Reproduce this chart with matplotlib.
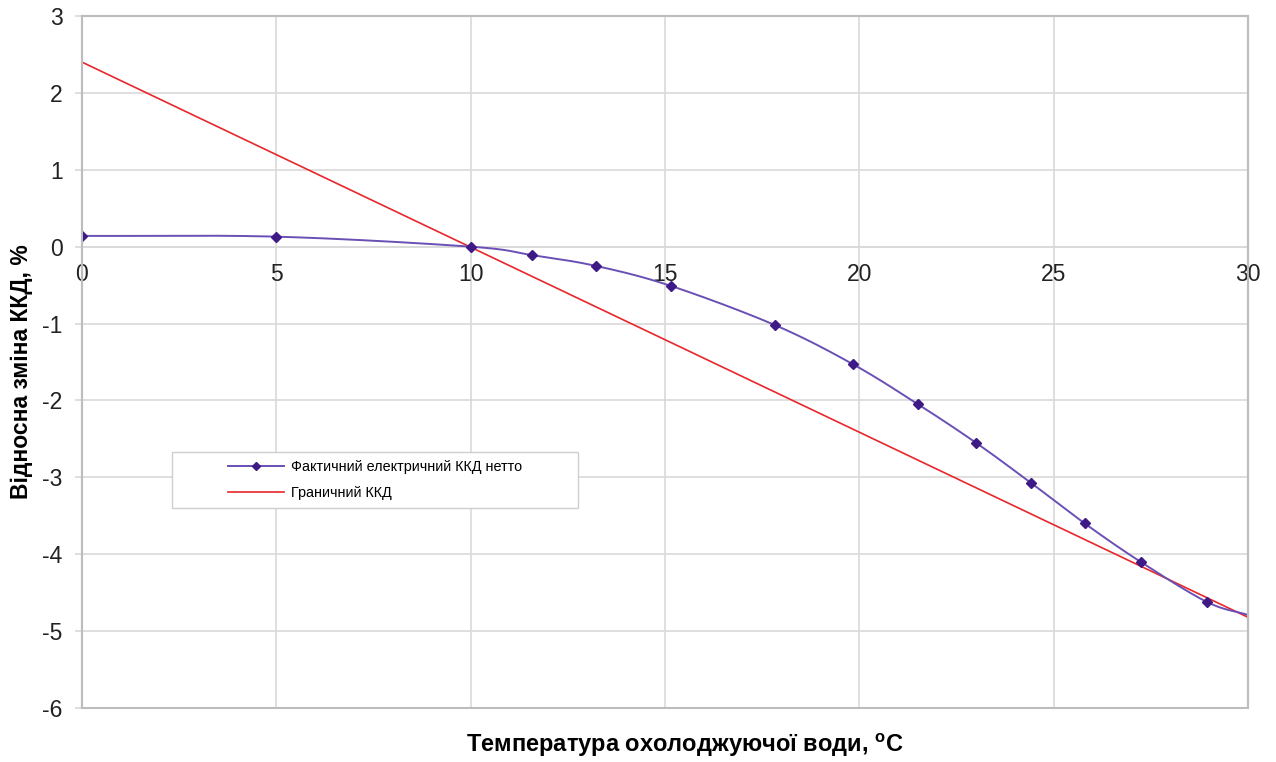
import numpy as np
import matplotlib
matplotlib.use("Agg")
import matplotlib.pyplot as plt
from matplotlib.patches import Rectangle

plt.rcParams['font.family'] = ['Liberation Sans', 'DejaVu Sans']
plt.rcParams['mathtext.default'] = 'regular'

# data
actual_x = [0, 5, 10, 11.58, 13.22, 15.15, 17.83, 19.84, 21.51, 23.0, 24.41, 25.8, 27.24, 28.94, 30]
actual_y = [0.14, 0.13, 0.0, -0.11, -0.25, -0.51, -1.02, -1.53, -2.05, -2.55, -3.07, -3.6, -4.10, -4.62, -4.79]
limit_x = [0, 30]
limit_y = [2.4, -4.82]
label_actual = "Фактичний електричний ККД нетто"
label_limit = "Граничний ККД"
x_ticks = [0, 5, 10, 15, 20, 25, 30]
y_ticks = [-6, -5, -4, -3, -2, -1, 0, 1, 2, 3]


def catmull_rom(xs, ys, n=30):
    xs = np.asarray(xs, float); ys = np.asarray(ys, float)
    px = np.concatenate([[2 * xs[0] - xs[1]], xs, [2 * xs[-1] - xs[-2]]])
    py = np.concatenate([[2 * ys[0] - ys[1]], ys, [2 * ys[-1] - ys[-2]]])
    ox, oy = [], []
    for i in range(1, len(px) - 2):
        t = np.linspace(0, 1, n, endpoint=False)
        for P, out in ((px, ox), (py, oy)):
            p0, p1, p2, p3 = P[i - 1], P[i], P[i + 1], P[i + 2]
            out.extend(0.5 * ((2 * p1) + (-p0 + p2) * t + (2 * p0 - 5 * p1 + 4 * p2 - p3) * t ** 2
                              + (-p0 + 3 * p1 - 3 * p2 + p3) * t ** 3))
    ox.append(xs[-1]); oy.append(ys[-1])
    return np.array(ox), np.array(oy)


W, H = 1276, 762
fig = plt.figure(figsize=(W / 100, H / 100), dpi=100)
L, R, T, B = 82, 1248, 16, 708
ax = fig.add_axes([L / W, 1 - B / H, (R - L) / W, (B - T) / H])

grid_c = '#d9d9d9'
frame_c = '#bdbdbd'
purple = '#6a4fb5'
mark_c = '#3d1a85'
red = '#e8262b'

sx, sy = catmull_rom(actual_x, actual_y)
ax.plot(limit_x, limit_y, color=red, lw=1.2, zorder=3)
ax.plot(sx, sy, color=purple, lw=1.4, zorder=4)
ax.plot(actual_x[:-1], actual_y[:-1], ls='none', marker='D', ms=5.5, color=mark_c, zorder=5)

ax.set_xlim(0, 30)
ax.set_ylim(-6, 3)
ax.set_xticks(x_ticks)
ax.set_yticks(y_ticks)
ax.set_xticklabels([str(v) for v in x_ticks])
ax.set_yticklabels([str(v) for v in y_ticks])

ax.grid(True, color=grid_c, lw=1.2, zorder=0)
for s in ['top', 'right', 'left']:
    ax.spines[s].set_color(frame_c)
    ax.spines[s].set_linewidth(1.5)
ax.spines['bottom'].set_position(('data', 0))
ax.spines['bottom'].set_color(grid_c)
ax.spines['bottom'].set_linewidth(1.2)
ax.add_patch(Rectangle((0, 0), 1, 1, transform=ax.transAxes, fill=False,
                       edgecolor=frame_c, lw=1.5, zorder=6, clip_on=False))

ax.tick_params(axis='x', length=0, pad=12, labelsize=16.5, colors='#222222')
ax.tick_params(axis='y', length=5, width=1.2, color=grid_c, pad=9, labelsize=16.5, labelcolor='#222222')

fig.text(22 / W, 1 - 372 / H, "Відносна зміна ККД, %", rotation=90,
         fontsize=16.5, fontweight='bold', ha='center', va='center')
fig.text(685 / W, 1 - 745 / H, "Температура охолоджуючої води, $^{o}$C",
         fontsize=17, fontweight='bold', ha='center', va='center')

# legend
lx0, lx1, ly0, ly1 = 172, 578, 452, 508
fig.patches.append(Rectangle((lx0 / W, 1 - ly1 / H), (lx1 - lx0) / W, (ly1 - ly0) / H,
                             transform=fig.transFigure, facecolor='white',
                             edgecolor='#cfcfcf', lw=1.0, zorder=7))
h1, = ax.plot([], [], color=purple, lw=1.4, marker='D', ms=4.5, markerfacecolor=mark_c,
              markeredgecolor=mark_c)
h2, = ax.plot([], [], color=red, lw=1.2)
leg = fig.legend([h1, h2], [label_actual, label_limit], loc='upper left',
                 bbox_to_anchor=(228 / W, 1 - 460 / H),
                 fontsize=10.4, frameon=False,
                 handlelength=3.9, borderpad=0, labelspacing=0.85, borderaxespad=0,
                 handletextpad=0.45)
leg.set_zorder(8)
fig.savefig("out.png", dpi=100)
